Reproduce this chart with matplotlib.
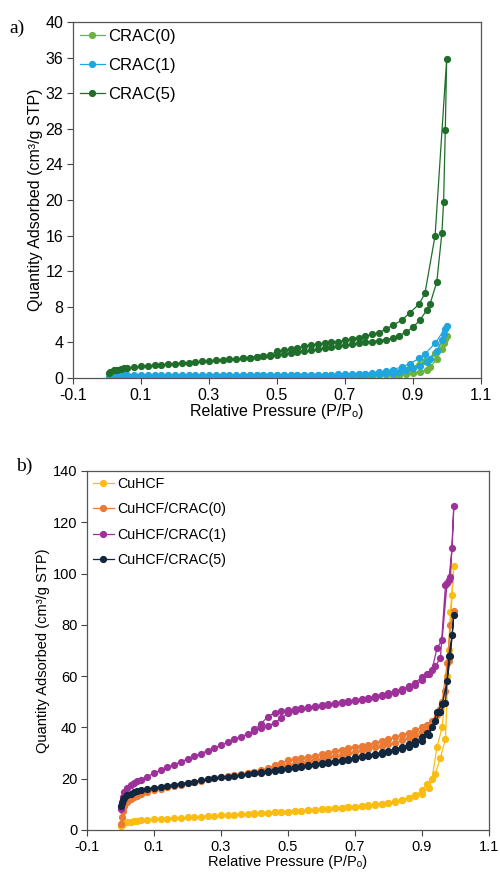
import numpy as np
import matplotlib
matplotlib.use('Agg')
import matplotlib.pyplot as plt

plt.rcParams['font.family'] = ['Liberation Sans', 'DejaVu Sans']

# pressure points (P/P0) for panel a
p_ads_a = [0.005, 0.01, 0.02, 0.03, 0.04, 0.05, 0.06, 0.08,
           0.10, 0.12, 0.14, 0.16, 0.18, 0.20, 0.22, 0.24, 0.26, 0.28,
           0.30, 0.32, 0.34, 0.36, 0.38, 0.40, 0.42, 0.44, 0.46, 0.48,
           0.50, 0.52, 0.54, 0.56, 0.58, 0.60, 0.62, 0.64, 0.66, 0.68,
           0.70, 0.72, 0.74, 0.76, 0.78, 0.80, 0.82, 0.84, 0.86, 0.88,
           0.90, 0.92, 0.94, 0.95, 0.97, 0.985, 0.99, 0.995, 0.999]
p_des_a = [0.965, 0.935, 0.918, 0.89, 0.867, 0.842, 0.82, 0.80, 0.78, 0.76,
           0.74, 0.72, 0.70, 0.68, 0.66, 0.64, 0.62, 0.60, 0.58, 0.56,
           0.54, 0.52, 0.50, 0.48, 0.46, 0.44, 0.42, 0.40]

crac0_ads = [0.05, 0.1, 0.13, 0.15, 0.17, 0.18, 0.19, 0.2,
             0.2, 0.21, 0.21, 0.22, 0.22, 0.22, 0.22, 0.23, 0.23, 0.23,
             0.23, 0.23, 0.23, 0.23, 0.23, 0.23, 0.23, 0.23, 0.23, 0.23,
             0.23, 0.23, 0.23, 0.23, 0.23, 0.23, 0.23, 0.23, 0.23, 0.24,
             0.24, 0.24, 0.25, 0.26, 0.27, 0.29, 0.31, 0.34, 0.38, 0.45,
             0.55, 0.7, 0.9, 1.2, 2.1, 3.3, 3.9, 4.4, 4.7]
crac0_des = [2.8, 1.9, 1.5, 1.1, 0.85, 0.65, 0.5, 0.42, 0.36, 0.32,
             0.3, 0.28, 0.27, 0.26, 0.25, 0.25, 0.24, 0.24, 0.24, 0.24,
             0.24, 0.24, 0.24, 0.24, 0.24, 0.24, 0.24, 0.24]

crac1_ads = [0.15, 0.22, 0.28, 0.31, 0.33, 0.34, 0.35, 0.36,
             0.36, 0.37, 0.37, 0.37, 0.37, 0.37, 0.37, 0.37, 0.37, 0.37,
             0.37, 0.37, 0.37, 0.37, 0.37, 0.37, 0.37, 0.37, 0.37, 0.37,
             0.37, 0.37, 0.37, 0.37, 0.37, 0.37, 0.37, 0.37, 0.37, 0.38,
             0.38, 0.39, 0.4, 0.42, 0.45, 0.48, 0.53, 0.6, 0.72, 0.88,
             1.1, 1.4, 1.8, 2.1, 3.0, 4.3, 4.9, 5.5, 5.8]
crac1_des = [3.9, 2.7, 2.2, 1.6, 1.25, 0.95, 0.75, 0.62, 0.54, 0.48,
             0.45, 0.43, 0.41, 0.4, 0.39, 0.39, 0.38, 0.38, 0.38, 0.38,
             0.38, 0.38, 0.38, 0.38, 0.38, 0.38, 0.38, 0.38]

crac5_ads = [0.55, 0.7, 0.85, 0.95, 1.02, 1.08, 1.13, 1.22,
             1.3, 1.37, 1.44, 1.5, 1.56, 1.62, 1.68, 1.74, 1.8, 1.86,
             1.92, 1.98, 2.04, 2.1, 2.16, 2.22, 2.28, 2.35, 2.42, 2.5,
             2.6, 2.7, 2.8, 2.9, 3.0, 3.1, 3.22, 3.34, 3.46, 3.58,
             3.7, 3.8, 3.9, 4.0, 4.1, 4.2, 4.3, 4.45, 4.75, 5.2,
             5.7, 6.5, 7.6, 8.3, 10.8, 16.3, 19.8, 27.9, 35.8]
crac5_des = [16.0, 9.5, 8.3, 7.3, 6.5, 5.95, 5.5, 5.1, 4.9, 4.7,
             4.55, 4.4, 4.25, 4.1, 4.0, 3.9, 3.8, 3.7, 3.55, 3.4,
             3.25, 3.1, 3.0, 2.6, 2.45, 2.37, 2.3, 2.24]

# pressure points (P/P0) for panel b
p_ads_b = [0.001, 0.003, 0.006, 0.01, 0.02, 0.03, 0.04, 0.05, 0.06, 0.08,
           0.10, 0.12, 0.14, 0.16, 0.18, 0.20, 0.22, 0.24, 0.26, 0.28,
           0.30, 0.32, 0.34, 0.36, 0.38, 0.40, 0.42, 0.44, 0.46, 0.48,
           0.50, 0.52, 0.54, 0.56, 0.58, 0.60, 0.62, 0.64, 0.66, 0.68,
           0.70, 0.72, 0.74, 0.76, 0.78, 0.80, 0.82, 0.84, 0.86, 0.88,
           0.90, 0.92, 0.94, 0.955, 0.97, 0.98, 0.99, 0.995]
p_des_b = [0.985, 0.975, 0.96, 0.945, 0.93, 0.915, 0.90,
           0.88, 0.86, 0.84, 0.82, 0.80, 0.78, 0.76, 0.74, 0.72, 0.70,
           0.68, 0.66, 0.64, 0.62, 0.60, 0.58, 0.56, 0.54, 0.52, 0.50,
           0.48, 0.46, 0.44, 0.42, 0.40]

cuhcf_ads = [1.5, 2.0, 2.4, 2.7, 3.0, 3.2, 3.4, 3.55, 3.7, 3.9,
             4.1, 4.3, 4.45, 4.6, 4.75, 4.9, 5.05, 5.2, 5.35, 5.5,
             5.65, 5.8, 5.95, 6.1, 6.25, 6.4, 6.55, 6.7, 6.85, 7.0,
             7.15, 7.3, 7.45, 7.6, 7.8, 8.0, 8.2, 8.4, 8.6, 8.8,
             9.0, 9.25, 9.5, 9.8, 10.1, 10.5, 11.0, 11.6, 12.3, 13.3,
             14.2, 16.5, 22.0, 28.0, 35.5, 70.0, 91.7, 103.0]
cuhcf_des = [85.0, 60.0, 40.0, 32.5, 20.0, 18.0, 15.5,
             13.5, 12.5, 11.8, 11.2, 10.7, 10.3, 9.95, 9.65, 9.35, 9.1,
             8.85, 8.65, 8.45, 8.25, 8.05, 7.85, 7.65, 7.5, 7.35, 7.2,
             7.05, 6.9, 6.75, 6.6, 6.45]

crac0b_ads = [2.5, 5.0, 7.5, 9.5, 11.0, 12.0, 12.8, 13.4, 14.0, 14.8,
              15.5, 16.1, 16.7, 17.2, 17.7, 18.2, 18.7, 19.2, 19.7, 20.2,
              20.6, 21.0, 21.4, 21.8, 22.2, 22.6, 23.1, 23.6, 24.1, 24.7,
              25.3, 25.8, 26.3, 26.8, 27.3, 27.8, 28.3, 28.8, 29.4, 29.9,
              30.5, 31.0, 31.6, 32.2, 32.8, 33.4, 34.1, 34.9, 35.8, 36.9,
              38.2, 40.0, 43.0, 47.0, 54.0, 66.0, 76.0, 85.5]
crac0b_des = [80.0, 65.0, 50.0, 45.0, 42.5, 41.0, 40.0,
              38.9, 37.9, 37.0, 36.2, 35.4, 34.7, 34.0, 33.3, 32.9, 32.5,
              31.9, 31.3, 30.7, 30.1, 29.5, 28.9, 28.4, 27.9, 27.5, 27.1,
              26.3, 25.2, 24.2, 23.4, 22.8]

crac1b_ads = [8.0, 11.0, 13.0, 14.9, 16.5, 17.5, 18.3, 19.0, 19.6, 20.8,
              22.2, 23.3, 24.4, 25.5, 26.6, 27.6, 28.7, 29.8, 30.9, 32.0,
              33.1, 34.2, 35.3, 36.4, 37.5, 38.6, 39.6, 40.6, 41.8, 43.6,
              45.5, 46.5, 47.0, 47.4, 47.8, 48.2, 48.6, 49.0, 49.4, 49.8,
              50.2, 50.6, 51.1, 51.6, 52.2, 52.8, 53.5, 54.3, 55.2, 56.4,
              58.5, 61.0, 64.0, 67.0, 95.5, 97.5, 110.0, 126.5]
crac1b_des = [98.5, 96.5, 74.0, 71.0, 62.5, 61.0, 59.5,
              57.5, 56.0, 55.0, 54.2, 53.5, 52.8, 52.2, 51.6, 51.1, 50.7,
              50.3, 49.9, 49.5, 49.1, 48.7, 48.3, 47.9, 47.5, 47.1, 46.8,
              46.4, 45.7, 44.2, 41.5, 39.2]

crac5b_ads = [9.5, 10.4, 11.5, 12.5, 13.5, 14.2, 14.7, 15.1, 15.5, 16.0,
              16.5, 16.9, 17.3, 17.7, 18.1, 18.5, 18.9, 19.3, 19.7, 20.1,
              20.5, 20.8, 21.1, 21.4, 21.8, 22.1, 22.4, 22.7, 23.0, 23.4,
              23.8, 24.2, 24.6, 25.0, 25.4, 25.8, 26.2, 26.6, 27.0, 27.4,
              27.8, 28.3, 28.8, 29.3, 29.8, 30.3, 30.9, 31.6, 32.4, 33.4,
              34.8, 37.0, 42.5, 46.0, 49.5, 68.0, 76.0, 84.0]
crac5b_des = [68.0, 58.0, 49.0, 46.0, 40.0, 37.8, 36.2,
              34.6, 33.4, 32.4, 31.6, 30.9, 30.3, 29.7, 29.2, 28.7, 28.3,
              27.8, 27.4, 27.0, 26.6, 26.2, 25.8, 25.4, 25.0, 24.6, 24.2,
              23.8, 23.4, 23.0, 22.6, 22.2]

series_a = [('CRAC(0)', crac0_ads, crac0_des, '#6cb33e'),
            ('CRAC(1)', crac1_ads, crac1_des, '#1fa5df'),
            ('CRAC(5)', crac5_ads, crac5_des, '#1f6e2b')]
series_b = [('CuHCF', cuhcf_ads, cuhcf_des, '#f9bd14'),
            ('CuHCF/CRAC(0)', crac0b_ads, crac0b_des, '#ea7a34'),
            ('CuHCF/CRAC(1)', crac1b_ads, crac1b_des, '#9e3199'),
            ('CuHCF/CRAC(5)', crac5b_ads, crac5b_des, '#12273d')]

fig = plt.figure(figsize=(5, 8.72), dpi=100)
ax1 = fig.add_axes([0.146, 0.5665, 0.816, 0.4083])
ax2 = fig.add_axes([0.174, 0.0482, 0.804, 0.4117])


def draw_panel(ax, series, p_ads, p_des, ymax, ystep, fs, legfs, labsp):
    for name, ads, des, col in series:
        x = list(p_ads) + list(p_des)
        y = list(ads) + list(des)
        ax.plot(x, y, '-o', color=col, lw=0.9, ms=4.2, mec=col, label=name)
    ax.set_xlim(-0.1, 1.1)
    ax.set_ylim(0, ymax)
    ax.set_xticks(np.arange(-0.1, 1.11, 0.2))
    ax.set_xticklabels(['-0.1', '0.1', '0.3', '0.5', '0.7', '0.9', '1.1'])
    ax.set_yticks(np.arange(0, ymax + 0.1, ystep))
    ax.tick_params(direction='out', length=4, width=0.8, color='#444444',
                   labelsize=fs, pad=3)
    for s in ax.spines.values():
        s.set_color('#555555')
        s.set_linewidth(0.9)
    ax.set_xlabel('Relative Pressure (P/Pₒ)', fontsize=fs, labelpad=1)
    ax.set_ylabel('Quantity Adsorbed (cm³/g STP)', fontsize=fs, labelpad=2)
    ax.legend(loc='upper left', frameon=False, fontsize=legfs, handlelength=1.5,
              handletextpad=0.2, labelspacing=labsp, borderaxespad=0.2,
              borderpad=0.2)


draw_panel(ax1, series_a, p_ads_a, p_des_a, 40, 4, 11.5, 12, 0.85)
draw_panel(ax2, series_b, p_ads_b, p_des_b, 140, 20, 10.5, 10.3, 0.8)

fig.text(0.018, 0.962, 'a)', family='Liberation Serif', fontsize=14)
fig.text(0.032, 0.460, 'b)', family='Liberation Serif', fontsize=14)

fig.savefig('out.png', dpi=100)
